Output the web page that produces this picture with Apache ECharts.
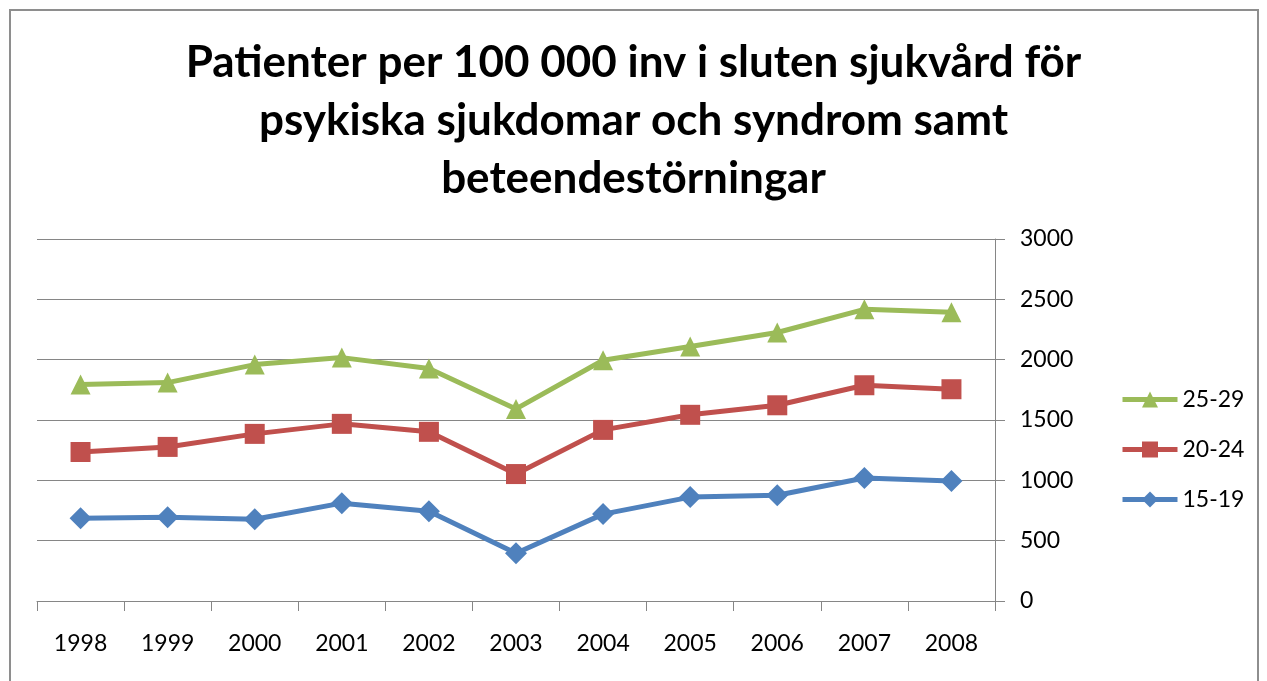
<!DOCTYPE html>
<html>
<head>
<meta charset="utf-8">
<script src="https://cdn.jsdelivr.net/npm/echarts@6/dist/echarts.min.js"></script>
<style>
  html, body { margin: 0; padding: 0; background: #fff; }
  #chart { width: 1267px; height: 681px; }
</style>
</head>
<body>
<div id="chart"></div>
<script>
// data
const years = ["1998", "1999", "2000", "2001", "2002", "2003", "2004", "2005", "2006", "2007", "2008"];
const age1519 = [686, 695, 678, 811, 744, 395, 720, 861, 877, 1019, 994];
const age2024 = [1235, 1277, 1385, 1468, 1402, 1052, 1418, 1543, 1622, 1788, 1755];
const age2529 = [1794, 1810, 1959, 2017, 1926, 1592, 1995, 2109, 2225, 2417, 2392];
const legendOrder = ["25-29", "20-24", "15-19"];

const font = "Lato, 'Open Sans', sans-serif";
const gray = "#868686";

const chart = echarts.init(document.getElementById("chart"));
chart.setOption({
  animation: false,
  backgroundColor: "#fff",
  graphic: [
    {
      type: "rect",
      shape: { x: 10, y: 10, width: 1248, height: 700 },
      style: { fill: "none", stroke: "#8e8e8e", lineWidth: 2 }
    }
  ],
  title: {
    text: "Patienter per 100 000 inv i sluten sjukvård för\npsykiska sjukdomar och syndrom samt\nbeteendestörningar",
    left: "center",
    top: 29,
    textStyle: {
      fontFamily: font,
      fontWeight: "bold",
      fontSize: 44,
      lineHeight: 58,
      color: "#000"
    }
  },
  legend: {
    orient: "vertical",
    left: 1115,
    top: 383,
    itemWidth: 55,
    itemHeight: 20,
    itemGap: 27,
    data: legendOrder,
    lineStyle: { width: 5 },
    textStyle: { fontFamily: font, fontSize: 23, color: "#000" }
  },
  grid: {
    left: 37,
    right: 272,
    top: 239,
    bottom: 80,
    containLabel: false
  },
  xAxis: {
    type: "category",
    data: years,
    boundaryGap: true,
    axisLine: { lineStyle: { color: gray, width: 1 } },
    axisTick: { show: true, length: 10, lineStyle: { color: gray } },
    axisLabel: { margin: 31, fontFamily: font, fontSize: 23, color: "#000" }
  },
  yAxis: {
    type: "value",
    position: "right",
    min: 0,
    max: 3000,
    interval: 500,
    axisLine: { show: true, lineStyle: { color: gray, width: 1 } },
    axisTick: { show: true, length: 10, lineStyle: { color: gray } },
    splitLine: { show: true, lineStyle: { color: gray, width: 1 } },
    axisLabel: {
      margin: 25,
      fontFamily: font,
      fontSize: 23,
      color: "#000",
      formatter: v => String(v)
    }
  },
  series: [
    {
      name: "15-19",
      type: "line",
      data: age1519,
      symbol: "diamond",
      symbolSize: 22,
      color: "#4F81BD",
      lineStyle: { width: 5 },
      itemStyle: { color: "#4F81BD" }
    },
    {
      name: "20-24",
      type: "line",
      data: age2024,
      symbol: "rect",
      symbolSize: 20,
      color: "#C0504D",
      lineStyle: { width: 5 },
      itemStyle: { color: "#C0504D" }
    },
    {
      name: "25-29",
      type: "line",
      data: age2529,
      symbol: "triangle",
      symbolSize: 20,
      color: "#9BBB59",
      lineStyle: { width: 5 },
      itemStyle: { color: "#9BBB59" }
    }
  ]
});
</script>
</body>
</html>
